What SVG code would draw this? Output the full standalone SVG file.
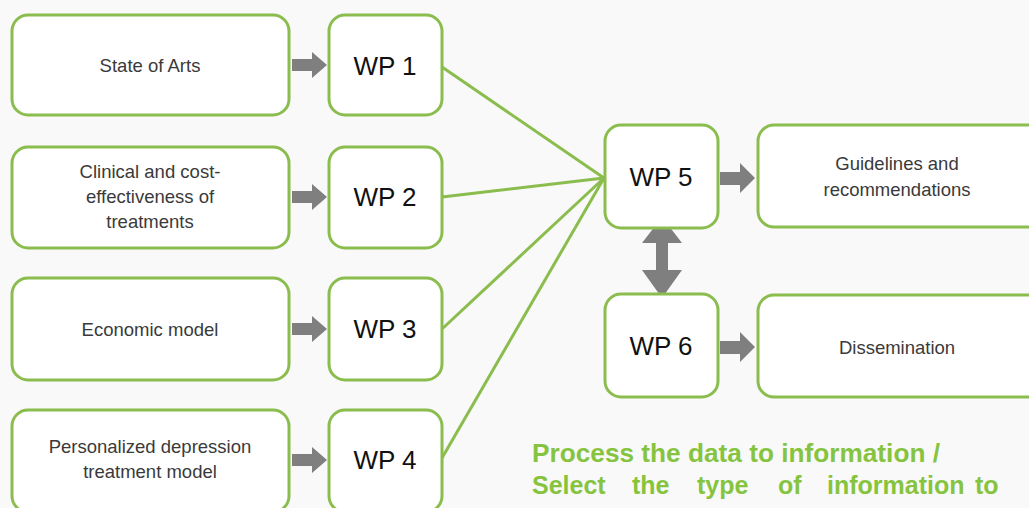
<svg xmlns="http://www.w3.org/2000/svg" width="1029" height="508" viewBox="0 0 1029 508">
<style>
.box{fill:#ffffff;stroke:#8bbd4e;stroke-width:3}
.lbl{font-family:"Liberation Sans",Arial,sans-serif;font-size:18.5px;fill:#3a3a3a;text-anchor:middle}
.wp{font-family:"Liberation Sans",Arial,sans-serif;font-size:26px;fill:#111;text-anchor:middle}
.con{stroke:#8bbd4e;stroke-width:3;fill:none}
.arr{fill:#7f7f7f}
.note{font-family:"Liberation Sans",Arial,sans-serif;font-size:25px;font-weight:bold;fill:#86c440}
</style>
<rect width="1029" height="508" fill="#f9f9f9"/>
<g id="connectors">
<line class="con" x1="442" y1="67" x2="604" y2="178"/>
<line class="con" x1="442" y1="197" x2="604" y2="178"/>
<line class="con" x1="442" y1="329" x2="604" y2="178"/>
<line class="con" x1="442" y1="458" x2="604" y2="178"/>
<path class="arr" d="M292,59 H312 V52 L327,65 L312,78 V71 H292 Z"/>
<path class="arr" d="M292,191 H312 V184 L327,197 L312,210 V203 H292 Z"/>
<path class="arr" d="M292,323 H312 V316 L327,329 L312,342 V335 H292 Z"/>
<path class="arr" d="M292,454 H312 V447 L327,460 L312,473 V466 H292 Z"/>
<path class="arr" d="M720,172 H740 V163 L755,178 L740,193 V185 H720 Z"/>
<path class="arr" d="M720,341 H740 V332 L755,347 L740,362 V354 H720 Z"/>
<path class="arr" d="M662,217 L682,243 H668 V270 H682 L662,298 L642,270 H656 V243 H642 Z"/>
</g>
<g id="n-state"><rect class="box" x="12" y="15" width="277" height="100" rx="16"/><text class="lbl" x="150" y="72">State of Arts</text></g>
<g id="n-clinical"><rect class="box" x="12" y="147" width="277" height="101" rx="16"/><text class="lbl" x="150" y="178">Clinical and cost-</text><text class="lbl" x="150" y="203">effectiveness of</text><text class="lbl" x="150" y="228">treatments</text></g>
<g id="n-economic"><rect class="box" x="12" y="278" width="277" height="102" rx="16"/><text class="lbl" x="150" y="336">Economic model</text></g>
<g id="n-personal"><rect class="box" x="12" y="410" width="277" height="102" rx="16"/><text class="lbl" x="150" y="453">Personalized depression</text><text class="lbl" x="150" y="478">treatment model</text></g>
<g id="n-wp1"><rect class="box" x="329" y="15" width="113" height="100" rx="16"/><text class="wp" x="385" y="75">WP 1</text></g>
<g id="n-wp2"><rect class="box" x="329" y="147" width="113" height="101" rx="16"/><text class="wp" x="385" y="206">WP 2</text></g>
<g id="n-wp3"><rect class="box" x="329" y="278" width="113" height="102" rx="16"/><text class="wp" x="385" y="338">WP 3</text></g>
<g id="n-wp4"><rect class="box" x="329" y="410" width="113" height="102" rx="16"/><text class="wp" x="385" y="469">WP 4</text></g>
<g id="n-wp5"><rect class="box" x="605" y="125" width="113" height="103" rx="16"/><text class="wp" x="661" y="186">WP 5</text></g>
<g id="n-wp6"><rect class="box" x="605" y="294" width="113" height="103" rx="16"/><text class="wp" x="661" y="355">WP 6</text></g>
<g id="n-guidelines"><rect class="box" x="758" y="125" width="290" height="102" rx="16"/><text class="lbl" x="897" y="170">Guidelines and</text><text class="lbl" x="897" y="196">recommendations</text></g>
<g id="n-dissemination"><rect class="box" x="758" y="295" width="290" height="102" rx="16"/><text class="lbl" x="897" y="354">Dissemination</text></g>
<g id="note">
<text class="note" x="532" y="462" textLength="408" lengthAdjust="spacingAndGlyphs">Process the data to information /</text>
<text class="note" y="494"><tspan x="532">Select</tspan><tspan x="632">the</tspan><tspan x="697">type</tspan><tspan x="778">of</tspan><tspan x="827">information</tspan><tspan x="975">to</tspan></text>
</g>
</svg>
